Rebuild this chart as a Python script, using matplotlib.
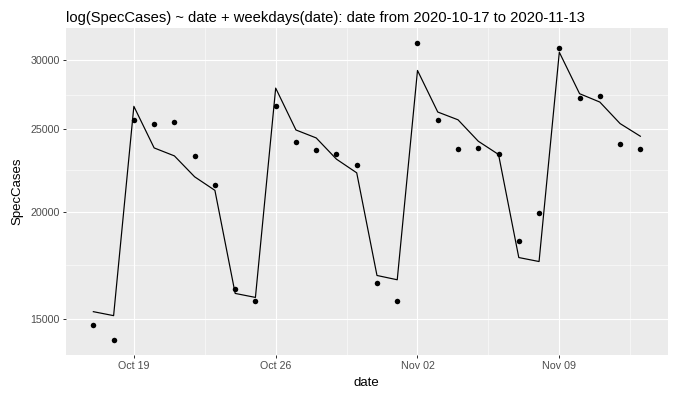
import numpy as np
import pandas as pd
import matplotlib
matplotlib.use("Agg")
import matplotlib.pyplot as plt
import matplotlib.dates as mdates
from matplotlib.ticker import FixedLocator, FuncFormatter, NullFormatter

dates = pd.date_range("2020-10-17", "2020-11-13", freq="D")
spec_cases = [14770, 14190, 25605, 25305, 25468, 23232, 21484, 16243, 15730,
              26531, 24099, 23633, 23338, 22681, 16505, 15747, 31452, 25557,
              23696, 23760, 23320, 18514, 19952, 31001, 27154, 27300, 24015, 23652]
fitted = [15303, 15141, 26531, 23734, 23232, 21965, 21182, 16070, 15899,
          27860, 24903, 24377, 23029, 22201, 16862, 16669, 29209, 26130,
          25591, 24163, 23320, 17692, 17504, 30672, 27446, 26837, 25333, 24488]
y_major = [15000, 20000, 25000, 30000]
x_major = pd.to_datetime(["2020-10-19", "2020-10-26", "2020-11-02", "2020-11-09"])
title = "log(SpecCases) ~ date + weekdays(date): date from 2020-10-17 to 2020-11-13"

W, H, DPI = 675, 396, 100
fig = plt.figure(figsize=(W / DPI, H / DPI), dpi=DPI)
plt.rcParams['font.family'] = ['Liberation Sans', 'DejaVu Sans']
px = 72 / DPI
fs = 1.12

left, right, top, bottom = 66, 667.7, 28, 354.7
ax = fig.add_axes([left / W, (H - bottom) / H, (right - left) / W, (bottom - top) / H])
ax.set_facecolor("#EBEBEB")
for s in ax.spines.values():
    s.set_visible(False)

ax.plot(dates, fitted, color="black", lw=1.2 * px, zorder=3)
ax.scatter(dates, spec_cases, s=(5.5 * px) ** 2, color="black", zorder=4, linewidths=0)

ax.set_yscale("log")
ax.margins(x=0.05, y=0.05)

ax.yaxis.set_major_locator(FixedLocator(y_major))
y_minor = [np.sqrt(a * b) for a, b in zip(y_major[:-1], y_major[1:])]
ax.yaxis.set_minor_locator(FixedLocator(y_minor))
ax.yaxis.set_major_formatter(FuncFormatter(lambda v, p: f"{int(round(v))}"))
ax.yaxis.set_minor_formatter(NullFormatter())

xm = mdates.date2num(x_major)
x_minor = list((xm[:-1] + xm[1:]) / 2) + [xm[-1] + 3.5, xm[0] - 3.5]
ax.xaxis.set_major_locator(FixedLocator(xm))
ax.xaxis.set_minor_locator(FixedLocator(x_minor))
ax.xaxis.set_major_formatter(mdates.DateFormatter("%b %d"))

ax.grid(True, which="major", color="white", lw=1.1 * px)
ax.grid(True, which="minor", color="white", lw=0.55 * px)
ax.set_axisbelow(True)

ax.tick_params(which="major", length=3 * px, width=1.0 * px, color="#333333",
               labelsize=8.8 * px * fs * 1.08, labelcolor="#4D4D4D")
ax.tick_params(which="minor", length=0)
ax.tick_params(axis="x", pad=3 * px)
ax.tick_params(axis="y", pad=3 * px)

ax.set_xlabel("date", fontsize=11 * px * fs * 1.08, labelpad=6 * px)
ax.set_ylabel("SpecCases", fontsize=11 * px * fs * 1.08, labelpad=7 * px)
ax.set_title(title, fontsize=13.2 * px * fs, loc="left", pad=6 * px)

fig.savefig("out.png", dpi=DPI)
